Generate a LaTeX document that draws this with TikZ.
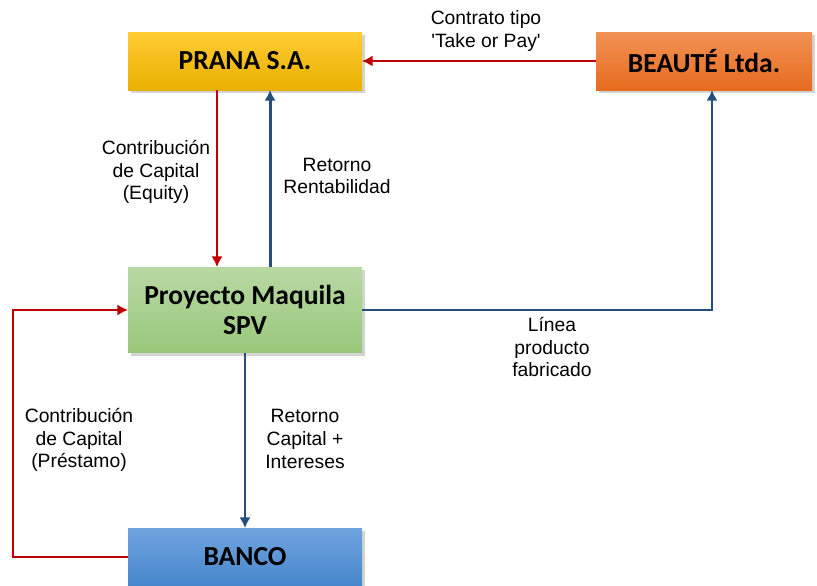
\documentclass[tikz,border=0pt]{standalone}
\usepackage{fontspec}
\setmainfont{Liberation Sans}
\newfontfamily\boxfont{Carlito}
\usetikzlibrary{arrows.meta,shadows}

\definecolor{redline}{RGB}{192,0,0}
\definecolor{blueline}{RGB}{36,78,126}

\begin{document}
\begin{tikzpicture}[x=0.85pt, y=-0.85pt,
    entity/.style={minimum width=198.9pt, minimum height=49.3pt, inner sep=0pt, outer sep=0pt,
        align=center, font=\boxfont\bfseries\fontsize{23.4}{25.5}\selectfont,
        drop shadow={shadow xshift=2.5pt, shadow yshift=-2.5pt, opacity=0.35}},
    txt/.style={align=center, inner sep=0pt, font=\fontsize{16.4}{19.2}\selectfont},
    redarrow/.style={draw=redline, line width=2.5pt, -{Latex[length=9pt,width=9.5pt]}},
    bluearrow/.style={draw=blueline, line width=2.5pt, -{Latex[length=9pt,width=9.5pt]}}]
        \useasboundingbox (0,0) rectangle (817,585);

        \node[entity, top color={rgb,255:red,255;green,204;blue,51}, bottom color={rgb,255:red,232;green,176;blue,0}] (prana) at (245, 61) {PRANA S.A.};
        \node[entity, minimum width=183.6pt, top color={rgb,255:red,242;green,145;blue,85}, bottom color={rgb,255:red,230;green,108;blue,30}] (beaute) at (704, 61) {BEAUTÉ Ltda.};
        \node[entity, minimum height=73pt, top color={rgb,255:red,184;green,216;blue,164}, bottom color={rgb,255:red,152;green,200;blue,122}] (spv) at (245, 310) {Proyecto Maquila\\SPV};
        \node[entity, top color={rgb,255:red,112;green,164;blue,222}, bottom color={rgb,255:red,70;green,134;blue,204}] (banco) at (245, 557) {BANCO};

        \node[txt] (take) at (486, 31) {Contrato tipo\\\textquotesingle Take or Pay\textquotesingle};
        \node[txt] (equity) at (156, 172) {Contribución\\de Capital\\(Equity)};
        \node[txt] (rent) at (337, 176) {Retorno\\Rentabilidad};
        \node[txt] (linea) at (552, 347) {Línea\\producto\\fabricado};
        \node[txt] (prestamo) at (79, 440) {Contribución\\de Capital\\(Préstamo)};
        \node[txt] (interes) at (305, 439) {Retorno\\Capital +\\Intereses};

        \draw[redarrow] (beaute.west) -- (prana.east);
        \draw[redarrow] ([xshift=-23.8pt]prana.south) -- ([xshift=-23.8pt]spv.north);
        \draw[bluearrow] ([xshift=21.3pt]spv.north) -- ([xshift=21.3pt]prana.south);
        \draw[bluearrow] (spv.east) -| ([xshift=6.8pt]beaute.south);
        \draw[bluearrow] (spv.south) -- (banco.north);
        \draw[redarrow] (banco.west) -- ++(-115,0) |- (spv.west);
\end{tikzpicture}
\end{document}
